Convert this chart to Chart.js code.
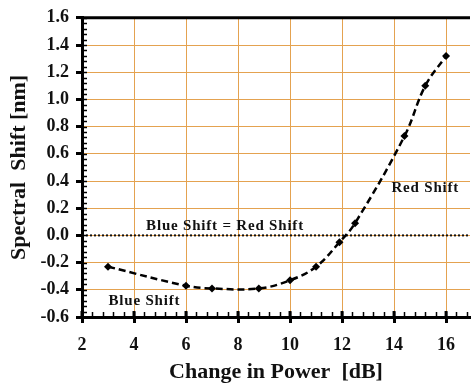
<!DOCTYPE html>
<html>
<head>
<meta charset="utf-8">
<script src="https://cdn.jsdelivr.net/npm/chart.js@4/dist/chart.umd.min.js"></script>
<style>
  html, body { margin: 0; padding: 0; background: #fff; }
  #wrap { width: 474px; height: 387px; }
</style>
</head>
<body>
<div id="wrap"><canvas id="shiftChart"></canvas></div>
<script>
// power change [dB] and spectral shift [nm]
const powerChange = [3, 6, 7, 8.8, 10, 11, 11.9, 12.5, 14.4, 15.2, 16];
const spectralShift = [-0.23, -0.37, -0.39, -0.39, -0.33, -0.23, -0.05, 0.09, 0.73, 1.1, 1.32];
const xTicks = [2, 4, 6, 8, 10, 12, 14, 16];
const yTicks = [-0.6, -0.4, -0.2, 0.0, 0.2, 0.4, 0.6, 0.8, 1.0, 1.2, 1.4, 1.6];
const notes = [
    {text: "Blue Shift = Red Shift", x: 7.5, y: 0.07},
    {text: "Red Shift", x: 15.2, y: 0.35},
    {text: "Blue Shift", x: 4.4, y: -0.48}
];

const serif = "'Liberation Serif', 'Times New Roman', serif";
const gridColor = "rgb(228, 162, 80)";

// frame, minor ticks, zero line and the text notes
const extras = {
    id: "extras",
    beforeDatasetsDraw(chart) {
        const {ctx, chartArea: a, scales: {x, y}} = chart;
        ctx.save();
        // dotted zero line
        const y0 = y.getPixelForValue(0);
        ctx.strokeStyle = "#111";
        ctx.lineWidth = 2;
        ctx.setLineDash([2, 2]);
        ctx.beginPath();
        ctx.moveTo(a.left, y0);
        ctx.lineTo(a.right, y0);
        ctx.stroke();
        ctx.setLineDash([]);

        // minor ticks on the left axis (inside)
        ctx.strokeStyle = "#000";
        ctx.lineWidth = 1.5;
        for (let v = -0.6; v <= 1.6001; v += 0.04) {
            const py = Math.round(y.getPixelForValue(v)) + 0.5;
            ctx.beginPath();
            ctx.moveTo(a.left, py);
            ctx.lineTo(a.left + 5, py);
            ctx.stroke();
        }
        // minor ticks on the bottom axis (inside) and inner part of majors
        for (let v = 2; v <= x.max; v += 0.4) {
            const px = Math.round(x.getPixelForValue(v)) + 0.5;
            ctx.beginPath();
            ctx.moveTo(px, a.bottom);
            ctx.lineTo(px, a.bottom - 5);
            ctx.stroke();
        }
        ctx.lineWidth = 3;
        xTicks.forEach(v => {
            const px = x.getPixelForValue(v);
            ctx.beginPath();
            ctx.moveTo(px, a.bottom);
            ctx.lineTo(px, a.bottom - 6);
            ctx.stroke();
        });
        // top frame line
        ctx.lineWidth = 3;
        ctx.beginPath();
        ctx.moveTo(a.left - 1.5, a.top);
        ctx.lineTo(a.right, a.top);
        ctx.stroke();

        // notes
        ctx.fillStyle = "#111";
        ctx.font = "bold 15px " + serif;
        ctx.letterSpacing = "0.8px";
        ctx.textAlign = "center";
        ctx.textBaseline = "middle";
        notes.forEach(n => {
            ctx.fillText(n.text, x.getPixelForValue(n.x), y.getPixelForValue(n.y));
        });
        ctx.restore();
    }
};

new Chart(document.getElementById("shiftChart").getContext("2d"), {
    type: "line",
    data: {
        datasets: [{
            data: powerChange.map((p, i) => ({x: p, y: spectralShift[i]})),
            borderColor: "#000",
            backgroundColor: "#000",
            borderWidth: 2.5,
            borderDash: [7, 4],
            tension: 0.4,
            pointStyle: "rectRot",
            pointRadius: 4,
            pointBorderWidth: 0
        }]
    },
    options: {
        responsive: true,
        maintainAspectRatio: false,
        animation: false,
        events: [],
        layout: {padding: {top: 11, right: 0, left: 0, bottom: 0}},
        plugins: {legend: {display: false}, tooltip: {enabled: false}},
        scales: {
            x: {
                type: "linear",
                min: 2,
                max: 16.92,
                afterBuildTicks: s => { s.ticks = xTicks.map(v => ({value: v})); },
                afterFit: s => { s.height = 70; },
                grid: {color: gridColor, lineWidth: 1, tickColor: "#000", tickLength: 6, tickWidth: 3},
                border: {color: "#000", width: 3},
                ticks: {
                    color: "#111",
                    padding: 12,
                    maxRotation: 0,
                    font: {family: serif, weight: "bold", size: 18}
                },
                title: {
                    display: true,
                    text: "Change in Power  [dB]",
                    color: "#111",
                    padding: {top: 0, bottom: 1},
                    font: {family: serif, weight: "bold", size: 22}
                }
            },
            y: {
                min: -0.6,
                max: 1.6,
                afterBuildTicks: s => { s.ticks = yTicks.map(v => ({value: v})); },
                afterFit: s => { s.width = 82; },
                grid: {color: gridColor, lineWidth: 1, tickColor: "#000", tickLength: 6, tickWidth: 3},
                border: {color: "#000", width: 3},
                ticks: {
                    color: "#111",
                    padding: 7,
                    font: {family: serif, weight: "bold", size: 18},
                    callback: v => v.toFixed(1)
                },
                title: {
                    display: true,
                    text: "Spectral  Shift [nm]",
                    color: "#111",
                    padding: {top: 6, bottom: 0},
                    font: {family: serif, weight: "bold", size: 22}
                }
            }
        }
    },
    plugins: [extras]
});
</script>
</body>
</html>
